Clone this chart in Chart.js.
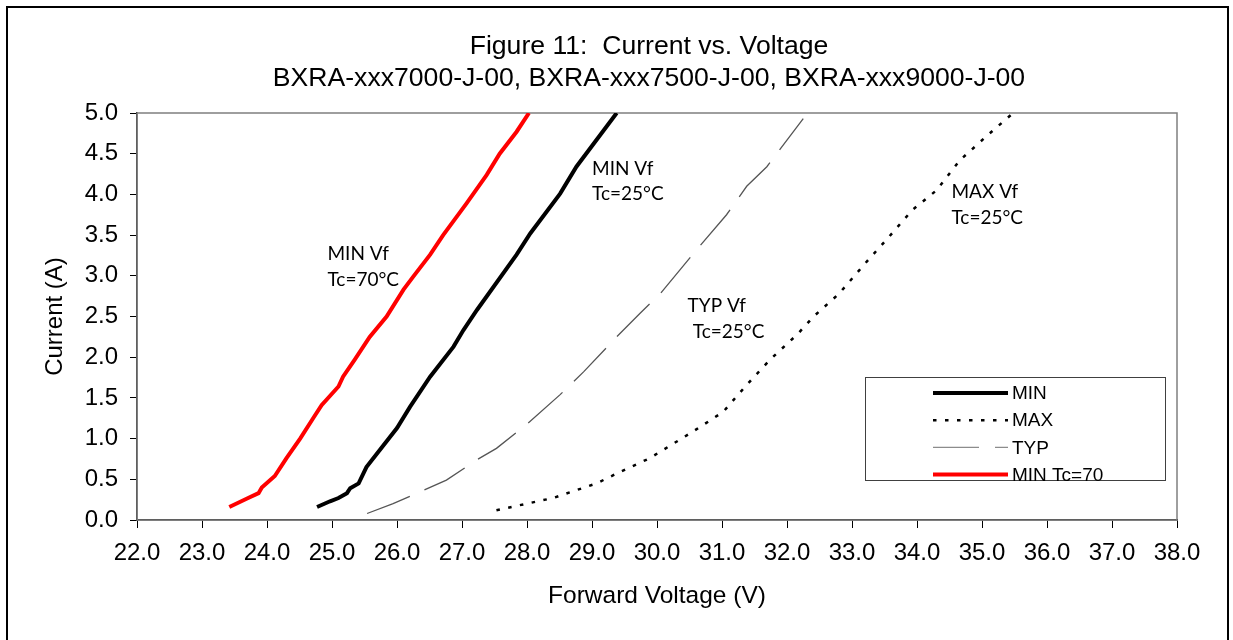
<!DOCTYPE html>
<html lang="en">
<head>
    <meta charset="UTF-8">
    <title>Figure 11: Current vs. Voltage</title>
    <script src="https://cdn.jsdelivr.net/npm/chart.js"></script>
    <style>
        body {
            margin: 0;
            background-color: white;
        }
        canvas {
            display: block;
        }
    </style>
</head>
<body>
    <canvas id="ivChart" width="1233" height="640"></canvas>

    <script>
        // Curvas (tensão em V, corrente em A)
        var minV = [24.77, 24.97, 25.10, 25.23, 25.28, 25.41, 25.53, 26.00, 26.20, 26.51, 26.87, 27.02, 27.23, 27.84, 28.05, 28.51, 28.76, 29.38];
        var minI = [0.16, 0.23, 0.27, 0.33, 0.39, 0.45, 0.65, 1.13, 1.39, 1.76, 2.13, 2.33, 2.58, 3.26, 3.52, 4.01, 4.34, 5.00];

        var maxV = [27.53, 28.05, 28.40, 29.07, 29.43, 29.89, 30.56, 31.02, 31.38, 31.74, 32.17, 32.41, 32.80, 33.20, 33.57, 33.93, 34.30, 34.66, 35.09, 35.48];
        var maxI = [0.12, 0.21, 0.27, 0.45, 0.59, 0.76, 1.09, 1.33, 1.66, 1.97, 2.29, 2.50, 2.78, 3.15, 3.48, 3.81, 4.05, 4.42, 4.73, 5.00];

        var typV = [25.54, 25.94, 26.20, 26.76, 27.23, 27.53, 27.99, 28.51, 28.87, 29.38, 29.74, 30.05, 30.61, 31.07, 31.38, 31.69, 32.25];
        var typI = [0.08, 0.20, 0.29, 0.49, 0.74, 0.88, 1.17, 1.54, 1.82, 2.25, 2.54, 2.78, 3.32, 3.75, 4.10, 4.34, 4.93];

        var hotV = [23.42, 23.71, 23.87, 23.92, 24.12, 24.30, 24.51, 24.71, 24.84, 25.10, 25.17, 25.35, 25.58, 25.84, 26.10, 26.25, 26.51, 26.71, 27.07, 27.38, 27.58, 27.84, 28.03];
        var hotI = [0.16, 0.27, 0.33, 0.40, 0.54, 0.76, 1.00, 1.25, 1.41, 1.64, 1.76, 1.97, 2.25, 2.50, 2.83, 2.99, 3.26, 3.50, 3.89, 4.24, 4.50, 4.77, 5.00];

        var seriesNames = ['MIN', 'MAX', 'TYP', 'MIN Tc=70'];

        var titleLines = ['Figure 11:  Current vs. Voltage', 'BXRA-xxx7000-J-00, BXRA-xxx7500-J-00, BXRA-xxx9000-J-00'];

        // Textos dentro do gráfico (posição em V / A, linha de base)
        var notes = [
            { text: 'MIN Vf', x: 24.93, y: 3.19 },
            { text: 'Tc=70°C', x: 24.93, y: 2.87 },
            { text: 'MIN Vf', x: 29.00, y: 4.24 },
            { text: 'Tc=25°C', x: 29.00, y: 3.93 },
            { text: 'TYP Vf', x: 30.47, y: 2.55 },
            { text: 'Tc=25°C', x: 30.55, y: 2.23 },
            { text: 'MAX Vf', x: 34.53, y: 3.95 },
            { text: 'Tc=25°C', x: 34.53, y: 3.64 }
        ];

        function toPoints(xs, ys) {
            return xs.map(function(v, i) { return { x: v, y: ys[i] }; });
        }

        var SANS = '"Liberation Sans", Arial, sans-serif';

        // Moldura externa, título e borda da área do gráfico
        var framePlugin = {
            id: 'frame',
            beforeDatasetsDraw: function(chart) {
                var ctx = chart.ctx;
                var a = chart.chartArea;
                ctx.save();
                ctx.strokeStyle = '#7f7f7f';
                ctx.lineWidth = 1.5;
                ctx.strokeRect(a.left, a.top, a.right - a.left, a.bottom - a.top);
                ctx.restore();
            },
            afterDraw: function(chart) {
                var ctx = chart.ctx;
                ctx.save();
                ctx.strokeStyle = '#000';
                ctx.lineWidth = 2;
                ctx.strokeRect(7, 7, 1221, 700);

                ctx.fillStyle = '#000';
                ctx.font = '26.6px ' + SANS;
                ctx.textAlign = 'center';
                ctx.textBaseline = 'alphabetic';
                ctx.fillText(titleLines[0], 649, 54);
                ctx.fillText(titleLines[1], 649, 86);
                ctx.restore();
            }
        };

        // Rótulos das curvas
        var notesPlugin = {
            id: 'notes',
            afterDatasetsDraw: function(chart) {
                var ctx = chart.ctx;
                var sx = chart.scales.x;
                var sy = chart.scales.y;
                ctx.save();
                ctx.fillStyle = '#000';
                ctx.font = '19px Lato, "Open Sans", sans-serif';
                ctx.textAlign = 'left';
                ctx.textBaseline = 'alphabetic';
                notes.forEach(function(n) {
                    ctx.fillText(n.text, sx.getPixelForValue(n.x), sy.getPixelForValue(n.y));
                });
                ctx.restore();
            }
        };

        // Legenda dentro da área do gráfico
        var boxLegendPlugin = {
            id: 'boxLegend',
            afterDatasetsDraw: function(chart) {
                var ctx = chart.ctx;
                var bx = 865, by = 377, bw = 300, bh = 103;
                ctx.save();
                ctx.fillStyle = '#fff';
                ctx.fillRect(bx, by, bw, bh);
                ctx.strokeStyle = '#404040';
                ctx.lineWidth = 1;
                ctx.strokeRect(bx + 0.5, by + 0.5, bw, bh);

                chart.data.datasets.forEach(function(ds, i) {
                    var y = 393 + i * 27.2;
                    ctx.save();
                    ctx.strokeStyle = ds.legendColor || ds.borderColor;
                    ctx.lineWidth = ds.borderWidth;
                    ctx.setLineDash(ds.borderDash || []);
                    ctx.beginPath();
                    ctx.moveTo(933, y);
                    ctx.lineTo(1008, y);
                    ctx.stroke();
                    ctx.restore();

                    ctx.fillStyle = '#000';
                    ctx.font = '19px ' + SANS;
                    ctx.textAlign = 'left';
                    ctx.textBaseline = 'middle';
                    ctx.fillText(ds.label, 1012, y + 1);
                });
                ctx.restore();
            }
        };

        var ctx = document.getElementById('ivChart').getContext('2d');

        var ivChart = new Chart(ctx, {
            type: 'scatter',
            data: {
                datasets: [{
                    label: seriesNames[0],
                    data: toPoints(minV, minI),
                    borderColor: '#000',
                    borderWidth: 4,
                    showLine: true
                }, {
                    label: seriesNames[1],
                    data: toPoints(maxV, maxI),
                    borderColor: '#000',
                    borderWidth: 2.5,
                    borderDash: [3.5, 8.5],
                    showLine: true
                }, {
                    label: seriesNames[2],
                    data: toPoints(typV, typI),
                    borderColor: '#555',
                    legendColor: '#8c8c8c',
                    borderWidth: 1.3,
                    borderDash: [46, 16],
                    showLine: true
                }, {
                    label: seriesNames[3],
                    data: toPoints(hotV, hotI),
                    borderColor: '#ff0000',
                    borderWidth: 4,
                    showLine: true
                }]
            },
            options: {
                responsive: false,
                animation: false,
                elements: {
                    point: { radius: 0, hoverRadius: 0 },
                    line: { tension: 0, fill: false }
                },
                layout: {
                    padding: { top: 113, right: 56, bottom: 0, left: 0 }
                },
                scales: {
                    x: {
                        type: 'linear',
                        min: 22,
                        max: 38,
                        afterFit: function(scale) { scale.height = 120; },
                        border: { color: '#000', width: 1.5 },
                        grid: { drawOnChartArea: false, color: '#000', tickLength: 8 },
                        ticks: {
                            stepSize: 1,
                            padding: 11,
                            color: '#000',
                            maxRotation: 0,
                            font: { family: SANS, size: 24 },
                            callback: function(v) { return v.toFixed(1); }
                        },
                        title: {
                            display: true,
                            text: 'Forward Voltage (V)',
                            color: '#000',
                            font: { family: SANS, size: 24.5 },
                            padding: { top: 4, bottom: 29 }
                        }
                    },
                    y: {
                        type: 'linear',
                        min: 0,
                        max: 5,
                        afterFit: function(scale) { scale.width = 137; },
                        border: { color: '#000', width: 1.5 },
                        grid: { drawOnChartArea: false, color: '#000', tickLength: 7 },
                        ticks: {
                            stepSize: 0.5,
                            padding: 12,
                            color: '#000',
                            font: { family: SANS, size: 24 },
                            callback: function(v) { return v.toFixed(1); }
                        },
                        title: {
                            display: true,
                            text: 'Current (A)',
                            color: '#000',
                            font: { family: SANS, size: 24 },
                            padding: { top: 41, bottom: 4 }
                        }
                    }
                },
                plugins: {
                    legend: { display: false },
                    tooltip: { enabled: false },
                    title: { display: false }
                }
            },
            plugins: [framePlugin, notesPlugin, boxLegendPlugin]
        });
    </script>
</body>
</html>
